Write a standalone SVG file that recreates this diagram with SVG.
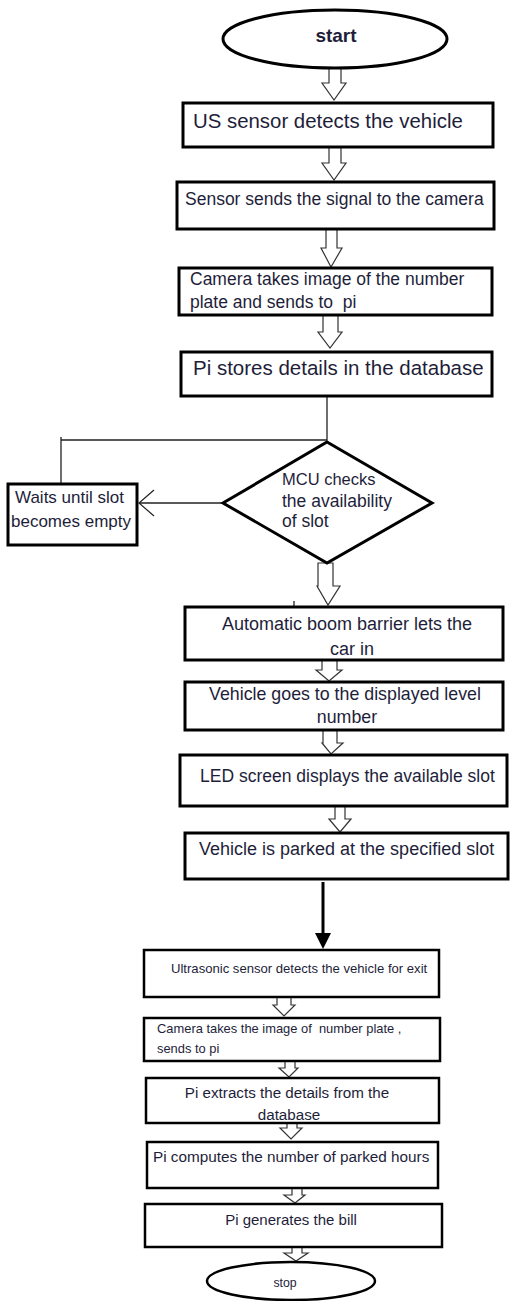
<svg xmlns="http://www.w3.org/2000/svg" width="510" height="1301" viewBox="0 0 510 1301">
<style>
.box{fill:#fff;stroke:#000;stroke-width:3}
.box2{fill:#fff;stroke:#000;stroke-width:2.5}
.ha{fill:#fff;stroke:#333;stroke-width:1.2;stroke-linejoin:miter}
.t{font-family:"Liberation Sans",Arial,sans-serif;fill:#1e1e3a}
.c{text-anchor:middle}
.ln{stroke:#222;stroke-width:1.3;fill:none}
</style>
<defs>
<marker id="open" markerWidth="20" markerHeight="30" refX="17" refY="14" orient="auto" markerUnits="userSpaceOnUse">
<path d="M2,1 L17,14 L2,27" fill="none" stroke="#222" stroke-width="1.2"/>
</marker>
</defs>
<rect width="510" height="1301" fill="#fff"/>
<g id="connectors">
<polygon class="ha" points="329,68 341,68 341,83 346,83 334,100 322,83 329,83"/>
<polygon class="ha" points="329,147 341,147 341,163 346,163 334,180 322,163 329,163"/>
<polygon class="ha" points="326,229 337,229 337,248 342,248 331,267 321,248 326,248"/>
<polygon class="ha" points="323,315 338,315 338,332 342,332 330,348 318,332 323,332"/>
<path class="ln" d="M327,396 V440 H61 M61,437 V483"/>
<path class="ln" d="M223,503 H139" marker-end="url(#open)"/>
<polygon class="ha" points="318,563 333,563 333,586 340,586 328,605 317,586 318,586"/>
<path class="ln" d="M294,601 V606" stroke-width="1.5"/>
<polygon class="ha" points="322,660 337,660 337,670 342,670 329,681 316,670 322,670"/>
<polygon class="ha" points="323,730 337,730 337,743 343,743 331,754 322,743 323,743"/>
<polygon class="ha" points="335,806 345,806 345,819 351,819 340,832 329,819 335,819"/>
<path d="M323,882 V935" stroke="#000" stroke-width="3"/>
<polygon points="315,933 331,933 323,949" fill="#000"/>
<polygon class="ha" points="277,997 291,997 291,1005 295,1005 284,1016 273,1005 277,1005"/>
<polygon class="ha" points="285,1061 295,1061 295,1068 298,1068 289,1077 279,1068 285,1068"/>
<polygon class="ha" points="287,1123 297,1123 297,1128 302,1128 291,1139 280,1128 287,1128"/>
<polygon class="ha" points="292,1188 302,1188 302,1195 305,1195 295,1203 284,1195 292,1195"/>
<polygon class="ha" points="292,1247 302,1247 302,1253 308,1253 296,1261 284,1253 292,1253"/>
</g>
<g id="start">
<ellipse cx="335" cy="39" rx="112" ry="29" fill="#fff" stroke="#000" stroke-width="3"/>
<text class="t c" x="336" y="42" font-size="19" font-weight="bold">start</text>
</g>
<g id="n1">
<rect class="box" x="183" y="103" width="310" height="44"/>
<text class="t" x="193" y="128" font-size="20.4">US sensor detects the vehicle</text>
</g>
<g id="n2">
<rect class="box" x="177" y="182" width="317" height="47"/>
<text class="t" x="185" y="205" font-size="17.5">Sensor sends the signal to the camera</text>
</g>
<g id="n3">
<rect class="box" x="179" y="268" width="313" height="47"/>
<text class="t" x="190" y="285" font-size="17.5">Camera takes image of the number</text>
<text class="t" x="190" y="308" font-size="17.5" xml:space="preserve">plate and sends to  pi</text>
</g>
<g id="n4">
<rect class="box" x="181" y="352" width="311" height="44"/>
<text class="t" x="193" y="375" font-size="20.5">Pi stores details in the database</text>
</g>
<g id="wait">
<rect class="box" x="8" y="484" width="129" height="61"/>
<text class="t" x="15" y="503" font-size="17">Waits until slot</text>
<text class="t" x="11" y="527" font-size="17">becomes empty</text>
</g>
<g id="decision">
<polygon points="327,442 432,503 327,563 223,503" fill="#fff" stroke="#000" stroke-width="3"/>
<text class="t" x="282" y="485" font-size="16.5">MCU checks</text>
<text class="t" x="282" y="507" font-size="17.5">the availability</text>
<text class="t" x="282" y="527" font-size="17.5">of slot</text>
</g>
<g id="n5">
<rect class="box" x="185" y="607" width="318" height="53"/>
<text class="t c" x="347" y="630" font-size="18">Automatic boom barrier lets the</text>
<text class="t c" x="352" y="655" font-size="18">car in</text>
</g>
<g id="n6">
<rect class="box" x="185" y="682" width="318" height="48"/>
<text class="t c" x="345" y="700" font-size="17.8">Vehicle goes to the displayed level</text>
<text class="t c" x="347" y="723" font-size="17.8">number</text>
</g>
<g id="n7">
<rect class="box" x="180" y="755" width="327" height="51"/>
<text class="t" x="200" y="782" font-size="17.5">LED screen displays the available slot</text>
</g>
<g id="n8">
<rect class="box" x="185" y="833" width="323" height="46"/>
<text class="t" x="199" y="855" font-size="18">Vehicle is parked at the specified slot</text>
</g>
<g id="n9">
<rect class="box2" x="144" y="950" width="295" height="47"/>
<text class="t" x="171" y="973" font-size="13.1">Ultrasonic sensor detects the vehicle for exit</text>
</g>
<g id="n10">
<rect class="box2" x="144" y="1018" width="296" height="43"/>
<text class="t" x="157" y="1033" font-size="12.9" xml:space="preserve">Camera takes the image of  number plate ,</text>
<text class="t" x="157" y="1053" font-size="12.9">sends to pi</text>
</g>
<g id="n11">
<rect class="box2" x="146" y="1078" width="293" height="45"/>
<text class="t c" x="287" y="1098" font-size="15.2">Pi extracts the details from the</text>
<text class="t c" x="289" y="1120" font-size="15.2">database</text>
</g>
<g id="n12">
<rect class="box2" x="147" y="1142" width="291" height="46"/>
<text class="t" x="153" y="1162" font-size="15.3">Pi computes the number of parked hours</text>
</g>
<g id="n13">
<rect class="box2" x="145" y="1204" width="297" height="43"/>
<text class="t c" x="291" y="1225" font-size="15">Pi generates the bill</text>
</g>
<g id="stop">
<ellipse cx="291" cy="1281" rx="84" ry="19" fill="#fff" stroke="#000" stroke-width="2.5"/>
<text class="t c" x="285" y="1287" font-size="12.3">stop</text>
</g>
</svg>
